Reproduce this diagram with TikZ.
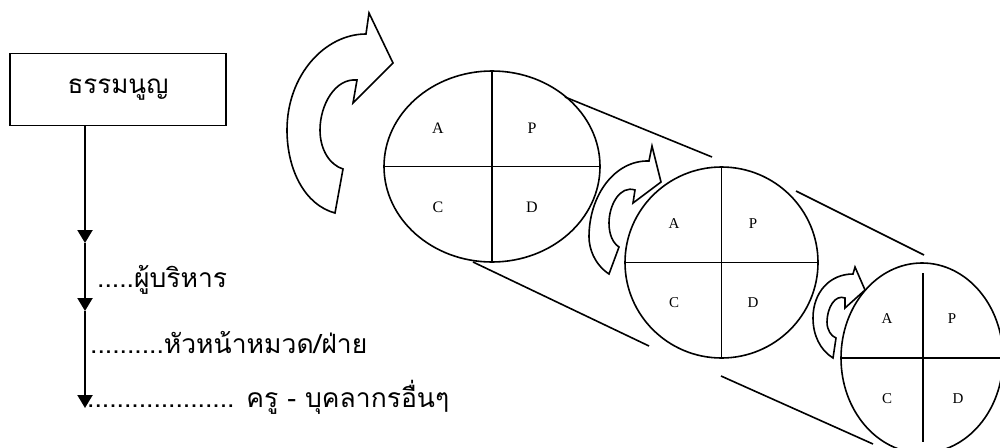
\documentclass[tikz,border=0pt]{standalone}
\usepackage{fontspec}
\setmainfont{Liberation Serif}
\newfontfamily\thai[Script=Thai]{Loma}
\usetikzlibrary{arrows.meta,shapes.geometric}
\begin{document}
\begin{tikzpicture}[x=1pt,y=-1pt,
  shapeline/.style={line width=1.6pt},
  titlebox/.style={draw,shapeline,minimum width=216pt,minimum height=72pt,inner sep=0pt,font=\thai\fontsize{26}{30}\selectfont},
  level/.style={anchor=base west,inner sep=0pt,font=\thai\fontsize{26.5}{30}\selectfont},
  flow/.style={line width=2.2pt,-{Triangle[length=13pt,width=15pt]}},
  cyc/.style={draw,shapeline,ellipse,inner sep=0pt},
  quad/.style={font=\fontsize{16}{18}\selectfont,inner sep=0pt},
  quadsmall/.style={font=\fontsize{15}{17}\selectfont,inner sep=0pt},
  turn/.style={shapeline,fill=white,line join=miter}]
\clip (0,0) rectangle (1000,447);
% left hierarchy
\node[titlebox] (box) at (118,89.5) {ธรรมนูญ};
\coordinate (a1) at (85,243);
\coordinate (a2) at (85,311);
\coordinate (a3) at (85,408);
\draw[flow] (a1 |- box.south) -- (a1);
\draw[flow] (a1) -- (a2);
\draw[flow] (a2) -- (a3);
\node[level] (l1) at (97,287) {.....ผู้บริหาร};
\node[level] (l2) at (90,353) {..........หัวหน้าหมวด/ฝ่าย};
\node[level] (l3) at (87,407) {.................... ครู - บุคลากรอื่นๆ};
% tangent lines
\draw[shapeline] (565,97) -- (712,157);
\draw[shapeline] (473,262) -- (649,346);
\draw[shapeline] (796,191) -- (924,255);
\draw[shapeline] (721,376) -- (873,444);
% circle 1
\node[cyc,minimum width=216pt,minimum height=191pt] (c1) at (492,166.5) {};
\draw[shapeline] (c1.north) -- (c1.south);
\draw[shapeline] (c1.west) -- (c1.east);
\node[quad] (c1a) at (438,128) {A};
\node[quad] (c1p) at (532,128) {P};
\node[quad] (c1c) at (438,207) {C};
\node[quad] (c1d) at (532,207) {D};
% circle 2
\node[cyc,minimum width=193pt,minimum height=191pt] (c2) at (721.5,262.5) {};
\draw[shapeline] (c2.north) -- (c2.south);
\draw[shapeline] (c2.west) -- (c2.east);
\node[quadsmall] (c2a) at (674,224) {A};
\node[quadsmall] (c2p) at (753,224) {P};
\node[quadsmall] (c2c) at (674,303) {C};
\node[quadsmall] (c2d) at (753,303) {D};
% circle 3
\node[cyc,minimum width=162pt,minimum height=190pt] (c3) at (922,358) {};
\draw[shapeline] (923,273) -- (923,442);
\draw[shapeline] (c3.west) -- (c3.east);
\node[quadsmall] (c3a) at (887,319) {A};
\node[quadsmall] (c3p) at (952,319) {P};
\node[quadsmall] (c3c) at (887,399) {C};
\node[quadsmall] (c3d) at (958,399) {D};
% curved arrows
\draw[turn] (335,213) .. controls (305,205) and (287,170) .. (287,130)
  .. controls (287,75) and (325,34) .. (366,34) -- (369,13) -- (393,63) -- (353,103) -- (357,80)
  .. controls (335,78) and (320,105) .. (320,130) .. controls (320,150) and (330,165) .. (343,169) -- cycle;
\draw[turn] (609,274) .. controls (594,264) and (589,248) .. (589,237)
  .. controls (589,195) and (615,160) .. (649,161) -- (652,146) -- (661,182) -- (633,203) -- (635,190)
  .. controls (620,185) and (609,205) .. (609,223) .. controls (609,235) and (613,243) .. (619,247) -- cycle;
\draw[turn] (833,358) .. controls (820,350) and (813,335) .. (813,318)
  .. controls (813,292) and (830,274) .. (853,274) -- (855,267) -- (865,290) -- (845,308) -- (845,298)
  .. controls (835,294) and (827,308) .. (827,322) .. controls (827,330) and (831,336) .. (836,338) -- cycle;
\end{tikzpicture}
\end{document}
